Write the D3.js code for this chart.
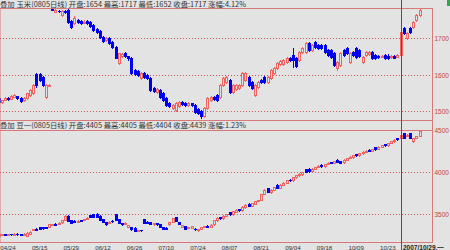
<!DOCTYPE html>
<html>
<head>
<meta charset="utf-8">
<script src="https://cdn.jsdelivr.net/npm/d3@7"></script>
<style>
body { margin: 0; background: #e3e3e3; }
svg { display: block; }
</style>
</head>
<body>
<svg id="chart" width="450" height="250"></svg>
<script>
// trading days, 04/19 .. 11/06
var days = ["04/19","04/20","04/23","04/24","04/25","04/26","04/27","04/30",
  "05/08","05/09","05/10","05/11","05/14","05/15","05/16","05/17","05/18","05/21","05/22","05/23","05/24","05/25","05/28","05/29","05/30","05/31",
  "06/01","06/04","06/05","06/06","06/07","06/08","06/11","06/12","06/13","06/14","06/15","06/18","06/19","06/20","06/21","06/22","06/25","06/26","06/27","06/28","06/29",
  "07/02","07/03","07/04","07/05","07/06","07/09","07/10","07/11","07/12","07/13","07/16","07/17","07/18","07/19","07/20","07/23","07/24","07/25","07/26","07/27","07/30","07/31",
  "08/01","08/02","08/03","08/06","08/07","08/08","08/09","08/10","08/13","08/14","08/15","08/16","08/17","08/20","08/21","08/22","08/23","08/24","08/27","08/28","08/29","08/30","08/31",
  "09/03","09/04","09/05","09/06","09/07","09/10","09/11","09/12","09/13","09/14","09/17","09/18","09/19","09/20","09/21","09/24","09/25","09/26","09/27","09/28",
  "10/08","10/09","10/10","10/11","10/12","10/15","10/16","10/17","10/18","10/19","10/22","10/23","10/24","10/25","10/26","10/29","10/30","10/31",
  "11/01","11/02","11/05","11/06"];

var tickDays = ["04/24","05/15","05/29","06/12","06/26","07/10","07/24","08/07","08/21","09/04","09/18","10/09","10/23"];
var cursorDay = "10/29";
var cursorLabel = "2007/10/29,一";

// 玉米 0805
var cornOpen = [1536,1524,1531,1536,1534,1539,1540,1535,1529,1535,1544,1549,1601,1601,1593,1538,1571,
  1781,1772,1775,1763,1774,1777,1746,1740,1748,1746,1742,1746,1744,1735,1725,1720,1704,1694,1700,1690,1676,
  1632,1650,1658,1650,1645,1612,1610,1591,1604,1600,1590,1563,1553,1558,1549,1536,1522,1508,1503,1514,1524,
  1523,1517,1521,1516,1505,1500,1486,1508,1530,1538,1544,1538,1571,1580,1585,1552,1560,1563,1571,1585,1593,
  1579,1544,1566,1585,1593,1579,1590,1604,1618,1629,1629,1634,1645,1653,1645,1640,1662,1662,1686,1667,1689,
  1681,1680,1681,1667,1667,1659,1618,1626,1667,1673,1634,1662,1673,1667,1634,1653,1657,1662,1653,1651,1650,
  1653,1652,1648,1652,1649,1654,1727,1700,1727,1730,1749,1763];
var cornHigh = [1538,1531,1538,1538,1545,1546,1541,1537,1537,1550,1559,1575,1603,1603,1595,1573,1573,
  1782,1779,1778,1778,1777,1780,1750,1760,1752,1748,1750,1749,1746,1738,1727,1723,1706,1702,1702,1692,1678,
  1660,1660,1661,1652,1647,1614,1612,1606,1606,1602,1592,1565,1562,1560,1552,1538,1524,1519,1525,1527,1527,
  1525,1525,1523,1518,1507,1503,1510,1538,1541,1541,1546,1574,1593,1596,1588,1574,1574,1574,1607,1607,1595,
  1581,1573,1582,1587,1595,1595,1614,1620,1635,1640,1643,1648,1648,1673,1648,1664,1676,1689,1690,1684,1692,
  1684,1683,1684,1670,1670,1662,1637,1662,1670,1676,1662,1665,1676,1670,1651,1665,1665,1665,1656,1653,1653,
  1656,1655,1653,1654,1656,1717,1730,1716,1729,1746,1765,1782];
var cornLow = [1522,1522,1530,1531,1532,1537,1533,1526,1527,1533,1542,1547,1566,1583,1569,1536,1569,
  1776,1770,1771,1761,1768,1740,1727,1737,1741,1739,1740,1737,1731,1720,1713,1700,1690,1692,1684,1673,1644,
  1630,1647,1648,1641,1602,1600,1597,1589,1591,1588,1555,1553,1550,1536,1527,1514,1511,1505,1500,1511,1516,
  1514,1515,1513,1495,1492,1481,1484,1505,1528,1530,1528,1536,1569,1577,1549,1549,1557,1560,1569,1583,1569,
  1560,1540,1563,1577,1577,1577,1588,1601,1616,1627,1627,1632,1637,1621,1620,1637,1659,1659,1664,1664,1673,
  1670,1670,1659,1650,1645,1623,1612,1623,1650,1656,1632,1650,1645,1648,1632,1650,1654,1642,1642,1645,1647,
  1643,1643,1646,1644,1647,1652,1711,1697,1713,1727,1746,1760];
var cornClose = [1525,1530,1536,1533,1541,1544,1535,1528,1535,1548,1557,1571,1571,1585,1571,1571,1571,
  1778,1777,1773,1775,1771,1744,1731,1755,1744,1742,1745,1740,1733,1722,1716,1703,1692,1699,1686,1676,1646,
  1659,1657,1650,1644,1604,1602,1599,1603,1594,1590,1558,1556,1560,1538,1530,1516,1514,1516,1522,1525,1518,
  1517,1522,1516,1497,1495,1486,1508,1536,1538,1533,1530,1571,1590,1593,1552,1571,1571,1571,1604,1604,1571,
  1563,1571,1579,1580,1579,1593,1612,1618,1632,1637,1640,1645,1640,1640,1623,1662,1673,1686,1667,1681,1676,
  1673,1673,1662,1653,1648,1626,1634,1659,1653,1659,1659,1653,1648,1651,1648,1662,1662,1645,1645,1648,1651,
  1646,1646,1650,1646,1654,1717,1714,1714,1716,1744,1763,1777];

// 豆一 0805
var soyOpen = [3238,3258,3262,3255,3262,3258,3266,3262,3250,3240,3265,3310,3322,3340,3345,3345,3345,3370,
  3385,3385,3400,3430,3480,3425,3420,3410,3425,3430,3445,3485,3495,3505,3480,3440,3405,3400,3420,3495,3440,
  3390,3385,3345,3340,3335,3300,3310,3440,3410,3400,3380,3390,3380,3345,3335,3380,3405,3465,3405,3345,3355,
  3335,3335,3325,3305,3325,3345,3360,3350,3380,3425,3460,3450,3478,3520,3495,3525,3555,3545,3580,3625,3600,
  3625,3655,3670,3740,3810,3760,3790,3850,3815,3850,3870,3910,3900,3935,3965,3975,4030,4040,4010,4040,4060,
  4085,4070,4095,4120,4110,4145,4130,4115,4145,4170,4175,4210,4200,4225,4240,4265,4250,4295,4275,4300,4330,
  4320,4345,4365,4400,4405,4464,4430,4460,4370,4410,4430];
var soyHigh = [3265,3266,3266,3264,3266,3270,3270,3266,3268,3280,3295,3326,3328,3345,3348,3350,3385,3385,
  3390,3400,3430,3490,3485,3430,3425,3423,3430,3445,3462,3490,3500,3510,3490,3445,3410,3415,3425,3500,3445,
  3395,3400,3370,3345,3340,3310,3315,3445,3415,3405,3393,3395,3385,3350,3340,3405,3458,3470,3410,3370,3360,
  3346,3360,3330,3325,3350,3362,3365,3380,3430,3460,3465,3485,3505,3525,3535,3555,3560,3590,3615,3630,3635,
  3660,3670,3740,3795,3815,3795,3825,3855,3855,3880,3910,3915,3940,3965,3985,4005,4035,4045,4045,4065,4078,
  4090,4100,4115,4125,4135,4150,4135,4150,4170,4185,4205,4215,4230,4245,4258,4270,4275,4300,4305,4325,4335,
  4350,4370,4390,4405,4445,4470,4450,4465,4410,4430,4495];
var soyLow = [3235,3254,3250,3250,3252,3255,3254,3250,3245,3236,3262,3305,3310,3320,3325,3330,3340,3365,
  3370,3380,3395,3425,3415,3390,3405,3405,3412,3425,3440,3460,3460,3460,3425,3400,3375,3395,3405,3425,3390,
  3375,3380,3340,3315,3295,3295,3300,3390,3390,3380,3375,3375,3345,3320,3320,3375,3400,3415,3380,3340,3320,
  3330,3330,3312,3300,3320,3340,3345,3345,3375,3420,3445,3445,3475,3490,3490,3520,3540,3540,3575,3595,3595,
  3620,3650,3665,3735,3760,3755,3785,3810,3810,3845,3865,3895,3895,3930,3955,3970,4000,4005,4005,4035,4055,
  4065,4065,4090,4105,4105,4115,4105,4110,4140,4165,4170,4195,4195,4220,4235,4245,4245,4265,4270,4295,4315,
  4315,4340,4360,4385,4404,4400,4425,4405,4360,4405,4425];
var soyClose = [3262,3262,3255,3260,3256,3266,3258,3255,3265,3275,3290,3320,3315,3325,3330,3335,3380,3380,
  3375,3395,3425,3475,3420,3395,3410,3418,3418,3440,3455,3465,3465,3465,3430,3405,3380,3410,3412,3430,3395,
  3380,3395,3365,3320,3300,3305,3305,3395,3395,3385,3388,3380,3350,3325,3325,3400,3450,3420,3385,3365,3325,
  3342,3355,3318,3320,3345,3357,3350,3375,3425,3455,3450,3480,3500,3495,3530,3550,3545,3585,3610,3600,3630,
  3655,3665,3735,3790,3765,3790,3820,3815,3850,3875,3905,3900,3935,3960,3975,4000,4005,4010,4040,4060,4070,
  4070,4095,4110,4110,4130,4120,4110,4145,4165,4178,4200,4200,4225,4240,4250,4250,4270,4270,4300,4320,4320,
  4345,4365,4385,4390,4439,4405,4440,4410,4405,4425,4490];

var cornTicks = [1700, 1600, 1500];
var soyTicks = [4500, 4000, 3500];

var cornTitle = "叠加   玉米(0805日线)  开盘:1654 最高:1717 最低:1652 收盘:1717 涨幅:4.12%";
var soyTitle = "叠加   豆一(0805日线)  开盘:4405 最高:4405 最低:4404 收盘:4439 涨幅:1.23%";

var plotRight = 432;
var svg = d3.select("#chart");

var x = d3.scaleLinear().domain([0, days.length - 1]).range([-1.5, 419.5]);
var yCorn = d3.scaleLinear().domain([1500, 1700]).range([111, 38]);
var ySoy = d3.scaleLinear().domain([3500, 4500]).range([214, 130]);

var upColor = "#f0645f", downColor = "#0000f0", frameColor = "#d87878", gridColor = "#cc5555";

function drawPanel(y, ticks, o, h, l, c, top, bottom, title, titleY) {
  var g = svg.append("g");
  // dotted grid lines + right labels
  g.selectAll("line.grid").data(ticks).enter().append("line")
    .attr("x1", 0).attr("x2", plotRight + 2)
    .attr("y1", d => Math.round(y(d)) + 0.5).attr("y2", d => Math.round(y(d)) + 0.5)
    .attr("stroke", gridColor).attr("stroke-dasharray", "1,2");
  g.selectAll("text.tick").data(ticks).enter().append("text")
    .attr("x", plotRight + 2.5).attr("y", d => Math.round(y(d)) + 2.5)
    .attr("font-family", "Liberation Sans, Arial, sans-serif")
    .attr("font-size", 6.5).attr("fill", "#c84040").text(d => d);
  // frame
  g.append("line").attr("x1", 0).attr("x2", plotRight).attr("y1", top + 0.5).attr("y2", top + 0.5).attr("stroke", frameColor);
  g.append("line").attr("x1", 0).attr("x2", plotRight).attr("y1", bottom + 0.5).attr("y2", bottom + 0.5).attr("stroke", frameColor);

  var clip = "clip" + top;
  svg.append("clipPath").attr("id", clip).append("rect")
    .attr("x", 0).attr("y", top + 1).attr("width", plotRight).attr("height", bottom - top - 1);
  var cg = g.append("g").attr("clip-path", "url(#" + clip + ")");

  var idx = d3.range(c.length);
  var candle = cg.selectAll("g.candle").data(idx).enter().append("g");
  candle.append("line")
    .attr("x1", i => Math.round(x(i)) + 0.5).attr("x2", i => Math.round(x(i)) + 0.5)
    .attr("y1", i => Math.round(y(h[i]))).attr("y2", i => Math.round(y(l[i])) + 1)
    .attr("stroke", i => c[i] >= o[i] ? upColor : downColor);
  candle.append("rect")
    .attr("x", i => Math.round(x(i)) - 1 + (c[i] >= o[i] ? 0.5 : 0))
    .attr("y", i => Math.round(y(Math.max(o[i], c[i]))) + (c[i] >= o[i] ? 0.5 : 0))
    .attr("width", i => c[i] >= o[i] ? 2 : 3)
    .attr("height", function (i) {
      var hgt = Math.round(y(Math.min(o[i], c[i]))) - Math.round(y(Math.max(o[i], c[i])));
      return c[i] >= o[i] ? Math.max(hgt, 1) : Math.max(hgt + 1, 1);
    })
    .attr("fill", i => c[i] >= o[i] ? "#e3e3e3" : downColor)
    .attr("stroke", i => c[i] >= o[i] ? upColor : "none");

  g.append("text").attr("x", 0).attr("y", titleY)
    .attr("font-family", "Noto Sans CJK SC, sans-serif")
    .attr("font-size", 7).attr("fill", "#333")
    .attr("textLength", 246).attr("lengthAdjust", "spacingAndGlyphs")
    .text(title);
}

drawPanel(yCorn, cornTicks, cornOpen, cornHigh, cornLow, cornClose, 8, 120, cornTitle, 7);
drawPanel(ySoy, soyTicks, soyOpen, soyHigh, soyLow, soyClose, 130, 242, soyTitle, 128);

// left and right borders
svg.append("line").attr("x1", plotRight + 0.5).attr("x2", plotRight + 0.5).attr("y1", 8).attr("y2", 243).attr("stroke", frameColor);
svg.append("line").attr("x1", 0.5).attr("x2", 0.5).attr("y1", 8).attr("y2", 243).attr("stroke", frameColor).attr("stroke-opacity", 0.5);

// small green marker top right
svg.append("rect").attr("x", 447).attr("y", 0).attr("width", 3).attr("height", 6).attr("fill", "#2fa84f");

// x labels
svg.selectAll("text.day").data(tickDays).enter().append("text")
  .attr("x", d => x(days.indexOf(d))).attr("y", 249.5).attr("text-anchor", "middle")
  .attr("font-family", "Liberation Sans, Arial, sans-serif")
  .attr("font-size", 6.2).attr("fill", "#333").text(d => d);

// cursor
var cx = Math.round(x(days.indexOf(cursorDay))) + 0.5;
svg.append("line").attr("x1", cx).attr("x2", cx).attr("y1", 0).attr("y2", 250).attr("stroke", "#555");
svg.append("text").attr("x", cx + 1.5).attr("y", 249.5)
  .attr("font-family", "Liberation Sans, Arial, sans-serif")
  .attr("font-size", 6.5).attr("font-weight", "bold").attr("fill", "#222").text(cursorLabel);
</script>
</body>
</html>
